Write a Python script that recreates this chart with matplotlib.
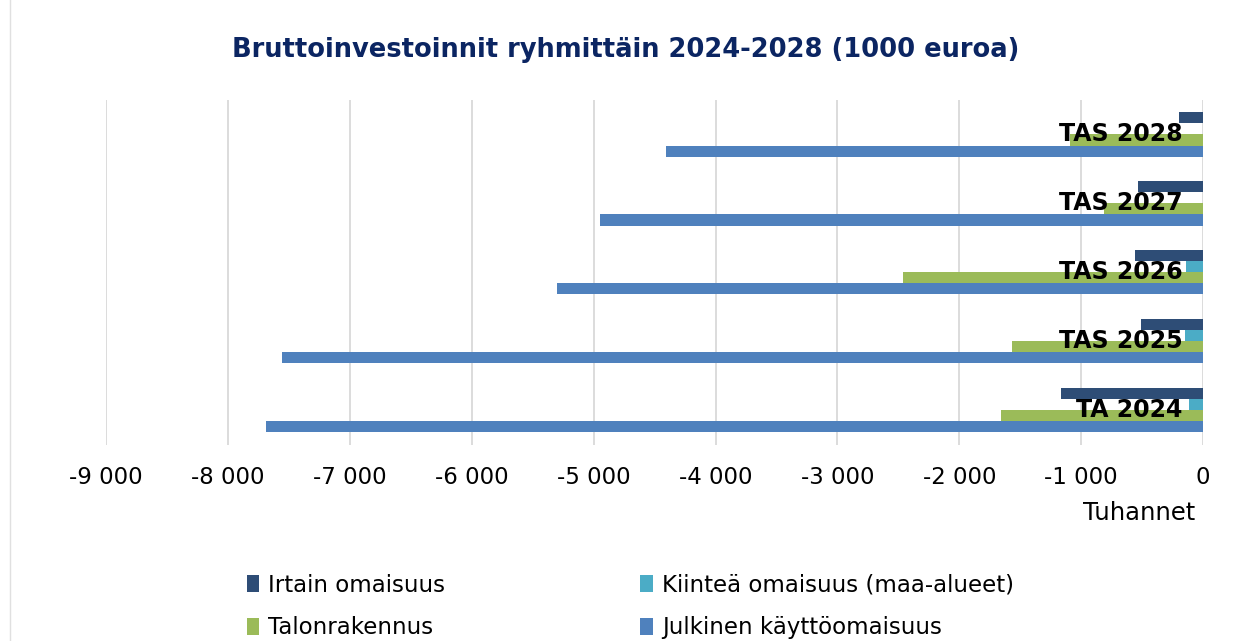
import matplotlib.pyplot as plt
import numpy as np
from matplotlib.ticker import FuncFormatter
from matplotlib.lines import Line2D

categories = ["TA 2024", "TAS 2025", "TAS 2026", "TAS 2027", "TAS 2028"]
irtain = [-1165, -510, -555, -530, -200]
kiintea = [-118, -145, -142, 0, 0]
talonrakennus = [-1655, -1570, -2460, -810, -1090]
julkinen = [-7690, -7555, -5300, -4950, -4410]

series_names = ["Irtain omaisuus", "Kiinteä omaisuus (maa-alueet)",
                "Talonrakennus", "Julkinen käyttöomaisuus"]
colors = ["#2E4D76", "#4BACC6", "#9BBB59", "#4F81BD"]

plt.rcParams["font.family"] = ["DejaVu Sans"]

fig = plt.figure(figsize=(12.39, 6.41), dpi=100)
ax = fig.add_axes([0.0856, 0.306, 0.971 - 0.0856, 0.844 - 0.306])

y = np.arange(len(categories))
h = 0.16
offsets = [1.5 * h, 0.5 * h, -0.5 * h, -1.5 * h]
handles = []
for vals, name, col, off in zip([irtain, kiintea, talonrakennus, julkinen],
                                series_names, colors, offsets):
    b = ax.barh(y + off, vals, height=h, color=col, label=name, zorder=3)
    handles.append(b)

ax.set_xlim(-9000, 0)
ax.set_ylim(-0.5, len(categories) - 0.5)
ax.set_xticks(np.arange(-9000, 1, 1000))
ax.xaxis.set_major_formatter(FuncFormatter(lambda v, p: f"{int(v):,}".replace(",", " ")))
ax.tick_params(axis="x", length=0, pad=15, labelsize=16.5)
ax.set_yticks([])
ax.grid(axis="x", color="#D9D9D9", linewidth=1.3, zorder=0)
for s in ax.spines.values():
    s.set_visible(False)

# category labels drawn inside the plot, near zero
for yi, cat in zip(y, categories):
    ax.text(0.981, yi, cat, transform=ax.get_yaxis_transform(),
            ha="right", va="center", fontsize=17, fontweight="bold",
            color="black", zorder=5)

fig.text(0.505, 0.922, "Bruttoinvestoinnit ryhmittäin 2024-2028 (1000 euroa)",
         ha="center", va="center", fontsize=18.5, fontweight="bold", color="#0B2562")
fig.text(1195 / 1239, 1 - 513 / 641, "Tuhannet", ha="right", va="center", fontsize=17.5)

# legend: row-wise order Irtain, Kiinteä / Talon, Julkinen
order = [0, 2, 1, 3]
fig.legend([handles[i] for i in order], [series_names[i] for i in order],
           ncol=2, loc="upper left", bbox_to_anchor=(226 / 1239, 1 - 553 / 641),
           frameon=False, fontsize=16.5, handlelength=0.55, handleheight=0.75,
           handletextpad=0.4, columnspacing=8.5, labelspacing=0.85)

# faint chart-area border on the left
fig.add_artist(Line2D([10 / 1239, 10 / 1239], [0, 1], transform=fig.transFigure,
                      color="#E0E0E0", linewidth=1))

fig.savefig("out.png", dpi=100)
